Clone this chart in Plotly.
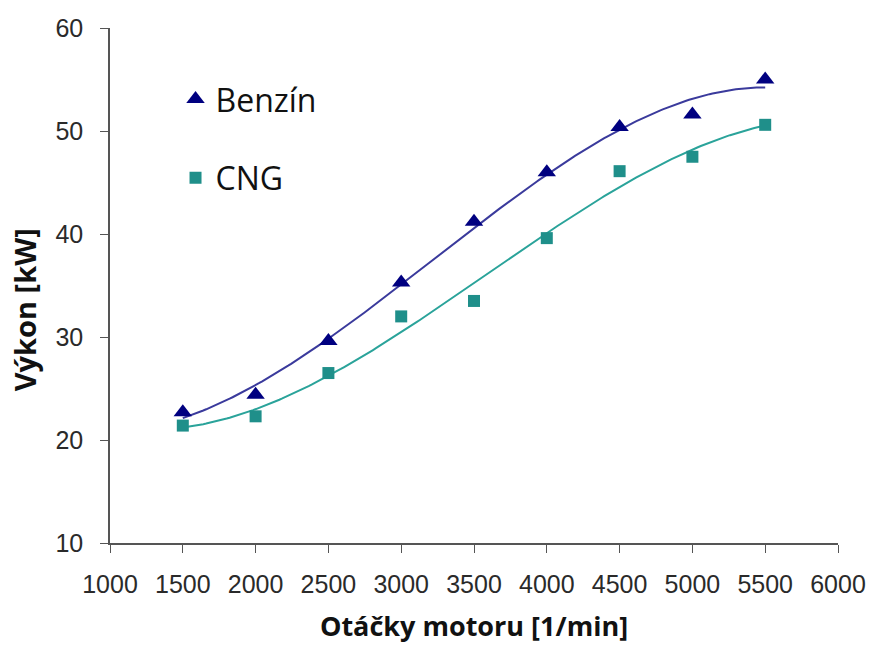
import numpy as np
import plotly.graph_objects as go

rpm = [1500, 2000, 2500, 3000, 3500, 4000, 4500, 5000, 5500]
benzin = [22.7, 24.4, 29.6, 35.3, 41.2, 46.0, 50.4, 51.6, 55.0]
cng = [21.4, 22.3, 26.5, 32.0, 33.5, 39.6, 46.1, 47.5, 50.6]

x_ticks = list(range(1000, 6001, 500))
y_ticks = list(range(10, 61, 10))

navy = "#000080"
navy_line = "#3a3a9c"
teal = "#1f8f8a"
teal_line = "#2aa39a"

fig = go.Figure()

xs = np.linspace(min(rpm), max(rpm), 200)
for ys, col in [(benzin, navy_line), (cng, teal_line)]:
    p = np.polyfit(rpm, ys, 3)
    fig.add_trace(go.Scatter(x=xs, y=np.polyval(p, xs), mode="lines",
                             line=dict(color=col, width=2), showlegend=False,
                             hoverinfo="skip"))

fig.add_trace(go.Scatter(x=rpm, y=benzin, mode="markers", name="Benzín",
                         legendgroup="b",
                         marker=dict(symbol="triangle-up", size=16, color=navy)))
fig.add_trace(go.Scatter(x=rpm, y=cng, mode="markers", name="CNG",
                         legendgroup="c",
                         marker=dict(symbol="square", size=12, color=teal)))

axis_common = dict(showline=True, linecolor="#555555", linewidth=1.5,
                   ticks="outside", ticklen=8, tickcolor="#555555",
                   showgrid=False, zeroline=False, automargin=False,
                   tickfont=dict(family="Liberation Sans", size=25, color="#2a2a2a"))

fig.update_layout(
    width=871, height=646,
    margin=dict(l=110, r=33, t=28, b=103),
    paper_bgcolor="white", plot_bgcolor="white",
    xaxis=dict(range=[1000, 6000], tickvals=x_ticks, ticklabelstandoff=10,
               title=dict(text="<b>Otáčky motoru [1/min]</b>",
                          font=dict(family="Open Sans", size=27, color="#111111"),
                          standoff=20),
               **axis_common),
    yaxis=dict(range=[10, 60], tickvals=y_ticks, ticklabelstandoff=12,
               **axis_common),
    legend=dict(x=0.09, y=0.915, xanchor="left", yanchor="top",
                traceorder="grouped", tracegroupgap=34,
                font=dict(family="Open Sans", size=32, color="#111111"),
                bgcolor="rgba(0,0,0,0)"),
    annotations=[dict(text="<b>Výkon [kW]</b>", textangle=-90,
                      xref="paper", yref="paper", x=-0.118, y=0.452,
                      xanchor="center", yanchor="middle", showarrow=False,
                      font=dict(family="Open Sans", size=29, color="#111111"))],
)

fig.write_html("out.html")
